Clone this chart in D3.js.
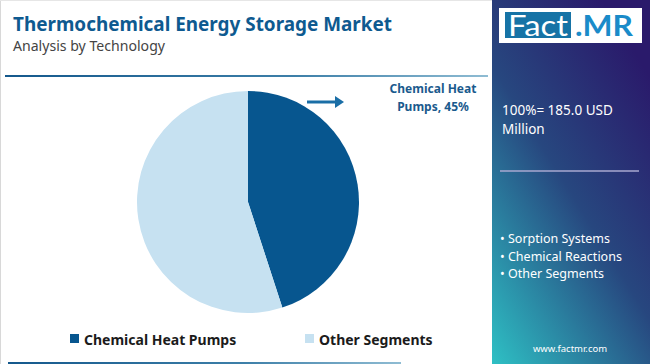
<!DOCTYPE html>
<html><head><meta charset="utf-8">
<script src="https://cdn.jsdelivr.net/npm/d3@7"></script>
<style>body{margin:0;background:#fff;}svg{display:block;font-family:"Noto Sans",sans-serif;}</style>
</head><body>
<svg id="c" width="650" height="364"></svg>
<script>
const categories = ["Chemical Heat Pumps", "Other Segments"];
const values = [45, 55];
const colors = ["#07568f", "#c6e1f1"];
const panelItems = ["Sorption Systems", "Chemical Reactions", "Other Segments"];
const totalLabel = ["100%= 185.0 USD", "Million"];

const svg = d3.select("#c");
const defs = svg.append("defs");
const pg = defs.append("linearGradient").attr("id","pg").attr("x1","0.7").attr("y1","0").attr("x2","0").attr("y2","1");
pg.append("stop").attr("offset","0").attr("stop-color","#2a1a6b");
pg.append("stop").attr("offset","0.45").attr("stop-color","#27477f");
pg.append("stop").attr("offset","1").attr("stop-color","#2ec0c4");
const lg = defs.append("linearGradient").attr("id","lg").attr("x1","0").attr("x2","1");
lg.append("stop").attr("offset","0").attr("stop-color","#14588c");
lg.append("stop").attr("offset","0.6").attr("stop-color","#3d7fa8");
lg.append("stop").attr("offset","1").attr("stop-color","#8fbcd3");

// borders
svg.append("line").attr("x1",0.5).attr("x2",0.5).attr("y1",0).attr("y2",364).attr("stroke","#d8d8d8");
svg.append("line").attr("x1",0).attr("x2",492).attr("y1",0.5).attr("y2",0.5).attr("stroke","#e6e6e6");

// title
svg.append("text").attr("x",13).attr("y",31).attr("font-size",19.5).attr("font-weight",700)
  .attr("fill","#0e5a90").attr("textLength",379).attr("lengthAdjust","spacingAndGlyphs").text("Thermochemical Energy Storage Market");
svg.append("text").attr("x",13).attr("y",51).attr("font-size",14).attr("fill","#444")
  .attr("textLength",152).attr("lengthAdjust","spacingAndGlyphs").text("Analysis by Technology");

// rules
svg.append("rect").attr("x",5).attr("y",75).attr("width",483).attr("height",2).attr("fill","url(#lg)");
svg.append("rect").attr("x",8).attr("y",362).attr("width",393).attr("height",2).attr("fill","url(#lg)");

// pie
const cx = 248, cy = 202, r = 111;
const pie = d3.pie().sort(null)(values);
const arc = d3.arc().innerRadius(0).outerRadius(r);
const g = svg.append("g").attr("transform",`translate(${cx},${cy})`);
g.selectAll("path").data(pie).join("path").attr("d",arc).attr("fill",(d,i)=>colors[i]);

// annotation
svg.append("line").attr("x1",307).attr("x2",336).attr("y1",102).attr("y2",102).attr("stroke","#1a6ea6").attr("stroke-width",3);
svg.append("path").attr("d","M335,96 L344,102 L335,108 Z").attr("fill","#1a6ea6");
const ann = svg.append("text").attr("text-anchor","middle").attr("font-size",12).attr("font-weight",700).attr("fill","#1a5a8d");
ann.append("tspan").attr("x",433).attr("y",93).text("Chemical Heat");
ann.append("tspan").attr("x",433).attr("y",111).text(`Pumps, ${values[0]}%`);

// legend
const legX = [70, 305];
categories.forEach((c,i)=>{
  svg.append("rect").attr("x",legX[i]).attr("y",334).attr("width",9).attr("height",9).attr("fill",colors[i]);
  svg.append("text").attr("x",legX[i]+14).attr("y",344.5).attr("font-size",14).attr("font-weight",700).attr("fill","#1b1b1b").text(c);
});

// right panel
svg.append("rect").attr("x",492).attr("y",0).attr("width",158).attr("height",364).attr("fill","url(#pg)");
svg.append("rect").attr("x",499).attr("y",8).attr("width",143).attr("height",35).attr("fill","#fff");
svg.append("rect").attr("x",505).attr("y",12).attr("width",66).attr("height",26).attr("fill","#1673a6");
svg.append("text").attr("x",508).attr("y",36).attr("font-size",29).attr("fill","#fff").attr("font-family","Lato, sans-serif")
  .attr("textLength",60).attr("lengthAdjust","spacingAndGlyphs").text("Fact");
svg.append("text").attr("x",575).attr("y",36).attr("font-size",28).attr("font-weight",700).attr("fill","#1a8bc9").attr("font-family","Lato, sans-serif")
  .attr("textLength",58).attr("lengthAdjust","spacingAndGlyphs").text(".MR");

totalLabel.forEach((t,i)=>{
  svg.append("text").attr("x",502).attr("y",115+i*19).attr("font-size",13.5).attr("fill","#fff").text(t);
});
svg.append("line").attr("x1",500).attr("x2",639).attr("y1",171).attr("y2",171).attr("stroke","#a8a8d0").attr("stroke-width",1.5);
panelItems.forEach((t,i)=>{
  svg.append("text").attr("x",500).attr("y",243+i*17.5).attr("font-size",12.5).attr("fill","#fff").text("• "+t);
});
svg.append("text").attr("x",570).attr("y",352).attr("text-anchor","middle").attr("font-size",9.5).attr("fill","#fff").text("www.factmr.com");
</script>
</body></html>
